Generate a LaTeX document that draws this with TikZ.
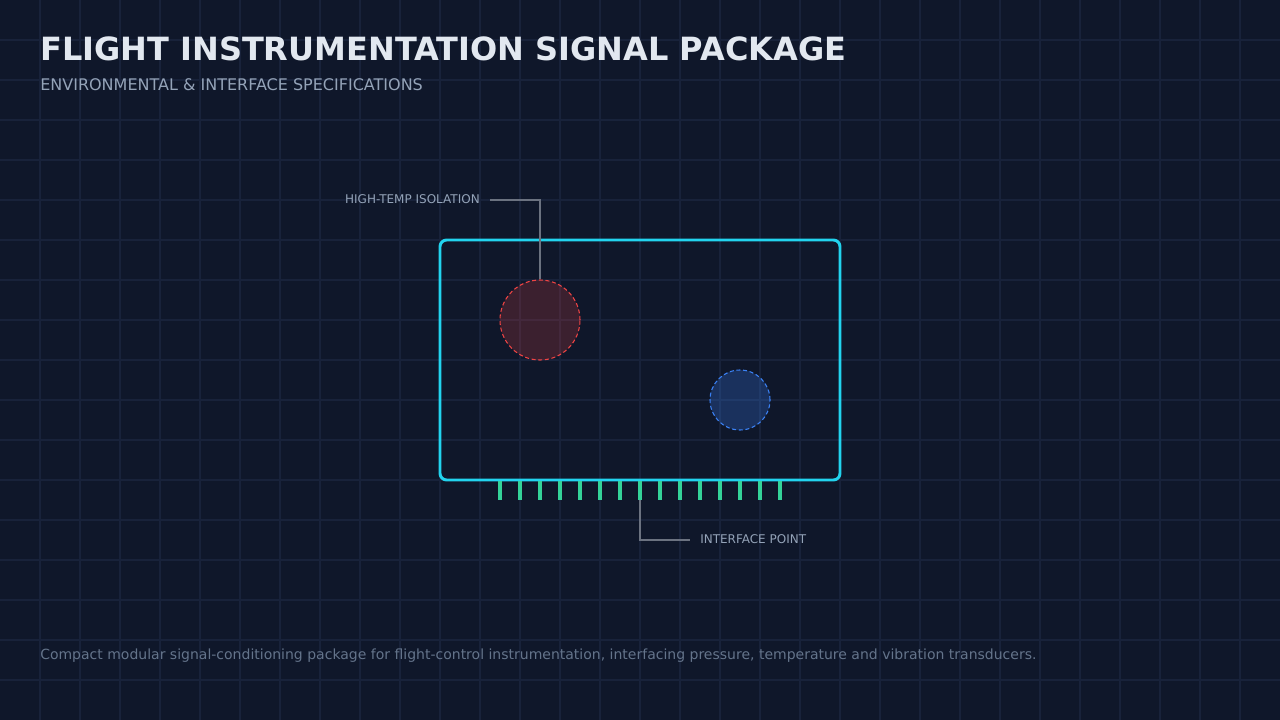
\documentclass[tikz,border=0pt]{standalone}
\usepackage{fontspec}
\setmainfont{DejaVu Sans}
\usepackage{tikz}
\usetikzlibrary{positioning}
\definecolor{bgc}{HTML}{0F172A}
\definecolor{gridc}{HTML}{18223A}
\definecolor{titlec}{HTML}{E2E8F0}
\definecolor{subc}{HTML}{94A3B8}
\definecolor{capc}{HTML}{64748B}
\definecolor{boxc}{HTML}{22D3EE}
\definecolor{pinc}{HTML}{34D399}
\definecolor{hotc}{HTML}{EF4444}
\definecolor{coolc}{HTML}{3B82F6}
\definecolor{leadc}{HTML}{6B7280}

\begin{document}
\begin{tikzpicture}
 [x=0.75pt,y=-0.75pt,
 label/.style={
  text=subc,
  font=\fontsize{9}{10}\selectfont,
  inner sep=0pt},
 lead/.style={draw=leadc, line width=1.1pt},
 zone/.style={dashed, dash pattern=on 3pt off 2pt, line width=0.8pt}]
\fill[bgc] (0,0) rectangle (1280,720);
\useasboundingbox (0,0) rectangle (1280,720);
\foreach \x in {40,80,...,1240}
  \draw[gridc, line width=1.2pt] (\x,0) -- (\x,720);
\foreach \y in {40,80,...,680}
  \draw[gridc, line width=1.2pt] (0,\y) -- (1280,\y);
% heading
\node (title) [anchor=west, inner sep=0pt, text=titlec, font=\fontsize{24}{26}\selectfont\bfseries] at (40,49) {FLIGHT INSTRUMENTATION SIGNAL PACKAGE};
\node (subtitle) [anchor=west, inner sep=0pt, text=subc, font=\fontsize{12}{14}\selectfont] at (40,85) {ENVIRONMENTAL \& INTERFACE SPECIFICATIONS};
% package body
\node (pkg) [draw=boxc, line width=2.2pt, rounded corners=5pt, minimum width=400*0.75pt, minimum height=240*0.75pt, inner sep=0pt] at (640,360) {};
\foreach \i in {0,...,14}
  \draw[pinc, line width=2.4pt] (500+20*\i,481) -- (500+20*\i,500);
\node (hot) [circle, zone, draw=hotc, fill=hotc, fill opacity=0.2, minimum size=80*0.75pt, inner sep=0pt] at (540,320) {};
\node (cool) [circle, zone, draw=coolc, fill=coolc, fill opacity=0.25, minimum size=60*0.75pt, inner sep=0pt] at (740,400) {};
% callouts
\node (hotlbl) [label, anchor=east] at (480,199) {HIGH-TEMP ISOLATION};
\coordinate (pin) at (640,500);
\node (pinlbl) [label, anchor=west] at (700,539) {INTERFACE POINT};
\draw[lead] (490,200) -| (hot.north);
\draw[lead] (pin) |- (690,540);
% caption
\node (caption) [anchor=west, inner sep=0pt, text=capc, font=\fontsize{10.5}{12}\selectfont] at (40,656) {Compact modular signal-conditioning package for flight-control instrumentation, interfacing pressure, temperature and vibration transducers.};
\end{tikzpicture}
\end{document}
